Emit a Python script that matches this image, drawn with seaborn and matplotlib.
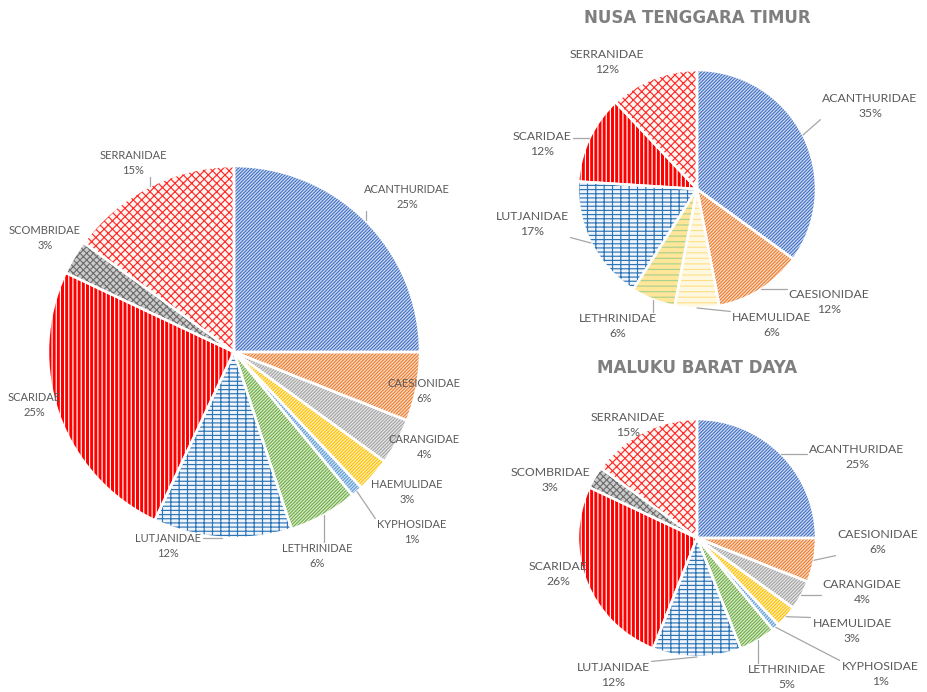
import numpy as np
import matplotlib
matplotlib.use("Agg")
import matplotlib.pyplot as plt
import seaborn as sns

sns.set_theme(style="white")
plt.rcParams['font.family'] = ['Lato', 'DejaVu Sans']
plt.rcParams['hatch.linewidth'] = 0.85

# ---------------- data ----------------
TOTAL_LABELS = ["ACANTHURIDAE", "CAESIONIDAE", "CARANGIDAE", "HAEMULIDAE", "KYPHOSIDAE",
                "LETHRINIDAE", "LUTJANIDAE", "SCARIDAE", "SCOMBRIDAE", "SERRANIDAE"]
TOTAL_VALUES = [25, 6, 4, 3, 1, 6, 12, 25, 3, 15]

NTT_TITLE = "NUSA TENGGARA TIMUR"
NTT_LABELS = ["ACANTHURIDAE", "CAESIONIDAE", "HAEMULIDAE", "LETHRINIDAE",
              "LUTJANIDAE", "SCARIDAE", "SERRANIDAE"]
NTT_VALUES = [35, 12, 6, 6, 17, 12, 12]

MBD_TITLE = "MALUKU BARAT DAYA"
MBD_LABELS = ["ACANTHURIDAE", "CAESIONIDAE", "CARANGIDAE", "HAEMULIDAE", "KYPHOSIDAE",
              "LETHRINIDAE", "LUTJANIDAE", "SCARIDAE", "SCOMBRIDAE", "SERRANIDAE"]
MBD_VALUES = [25, 6, 4, 3, 1, 5, 12, 26, 3, 15]

# ---------------- styles (face, hatch, hatch colour) ----------------
DIAG = "/" * 10
STYLE = {
    "ACANTHURIDAE": ("#d2def3", DIAG, "#4472C4"),
    "CAESIONIDAE": ("#fbe0cc", DIAG, "#ED7D31"),
    "CARANGIDAE": ("#e8e8e8", DIAG, "#A5A5A5"),
    "HAEMULIDAE": ("#fff0c0", DIAG, "#FFC000"),
    "KYPHOSIDAE": ("#d6e6f5", DIAG, "#5B9BD5"),
    "LETHRINIDAE": ("#dcedd0", DIAG, "#70AD47"),
    "LUTJANIDAE": ("#f0f5fb", "--++", "#2E75B6"),
    "SCARIDAE": ("#FF0000", "||||", "#FFFFFF"),
    "SCOMBRIDAE": ("#cccccc", "xxxxx", "#6f6f6f"),
    "SERRANIDAE": ("#fdf6f0", "xxxx", "#FF2a2a"),
}
NTT_STYLE = dict(STYLE)
NTT_STYLE["HAEMULIDAE"] = ("#fff8e1", "---", "#FFE08A")
NTT_STYLE["LETHRINIDAE"] = ("#FFE699", "---", "#A9D18E")

# label offsets in units of radius (layout only)
TOTAL_OFFS = [(0.930, 0.833), (1.022, -0.210), (1.022, -0.511), (0.930, -0.753), (0.957, -0.968),
              (0.446, -1.097), (-0.355, -1.043), (-1.075, -0.285), (-1.016, 0.613), (-0.543, 1.016)]
NTT_OFFS = [(1.454, 0.697), (1.109, -0.950), (0.630, -1.143), (-0.664, -1.151),
            (-1.387, -0.294), (-1.303, 0.378), (-0.756, 1.067)]
MBD_OFFS = [(1.345, 0.681), (1.521, -0.034), (1.387, -0.454), (1.303, -0.782), (1.538, -1.143),
            (0.756, -1.168), (-0.706, -1.151), (-1.168, -0.303), (-1.235, 0.487), (-0.580, 0.950)]

W, H = 928, 692
TEXT_COLOR = "#595959"
LINE_COLOR = "#a6a6a6"

fig = plt.figure(figsize=(W / 100, H / 100), dpi=100)
ax = fig.add_axes([0, 0, 1, 1])

label_items = []


def draw_pie(labels, values, center_px, radius, offsets, fontsize, style):
    cx, cy = center_px[0], H - center_px[1]
    faces = [style[l][0] for l in labels]
    hatches = [style[l][1] for l in labels]
    hcols = [style[l][2] for l in labels]
    wedges, _ = ax.pie(values, colors=faces, hatch=hatches, startangle=90,
                       counterclock=False, center=(cx, cy), radius=radius,
                       wedgeprops=dict(linewidth=0))
    for w, hc in zip(wedges, hcols):
        w.set_edgecolor(hc)
        w.set_linewidth(0)
    ax.pie(values, colors=["none"] * len(values), startangle=90,
           counterclock=False, center=(cx, cy), radius=radius,
           wedgeprops=dict(edgecolor="white", linewidth=1.8))
    total = float(sum(values))
    cum = np.cumsum([0] + list(values))
    for i, (lab, v) in enumerate(zip(labels, values)):
        mid = np.deg2rad(90 - 360.0 * (cum[i] + v / 2.0) / total)
        dx, dy = offsets[i]
        t = ax.text(cx + dx * radius, cy + dy * radius, f"{lab}\n{v}%",
                    ha="center", va="center", fontsize=fontsize, color=TEXT_COLOR,
                    linespacing=1.35, zorder=5)
        p0 = (cx + radius * np.cos(mid), cy + radius * np.sin(mid))
        label_items.append((t, p0))


draw_pie(TOTAL_LABELS, TOTAL_VALUES, (234, 352), 186, TOTAL_OFFS, 8, STYLE)
draw_pie(NTT_LABELS, NTT_VALUES, (697, 189), 119, NTT_OFFS, 8.8, NTT_STYLE)
draw_pie(MBD_LABELS, MBD_VALUES, (697, 538), 119, MBD_OFFS, 8.8, STYLE)

ax.text(697, H - 18, NTT_TITLE, ha="center", va="center", fontsize=12,
        fontweight="bold", color="#7f7f7f", family="DejaVu Sans")
ax.text(697, H - 368, MBD_TITLE, ha="center", va="center", fontsize=12,
        fontweight="bold", color="#7f7f7f", family="DejaVu Sans")

ax.set_xlim(0, W)
ax.set_ylim(0, H)
ax.set_aspect("equal")
ax.axis("off")

# leader lines
fig.canvas.draw()
renderer = fig.canvas.get_renderer()
inv = ax.transData.inverted()
for t, p0 in label_items:
    bb = t.get_window_extent(renderer)
    (x0, y0), (x1, y1) = inv.transform([[bb.x0, bb.y0], [bb.x1, bb.y1]])
    x0 -= 2; x1 += 2; y0 -= 1; y1 += 1
    qx = min(max(p0[0], x0), x1)
    qy = min(max(p0[1], y0), y1)
    d = np.hypot(qx - p0[0], qy - p0[1])
    if d > 8:
        ax.plot([p0[0], qx], [p0[1], qy], color=LINE_COLOR, lw=0.9, zorder=4)

fig.savefig("out.png", dpi=100)
